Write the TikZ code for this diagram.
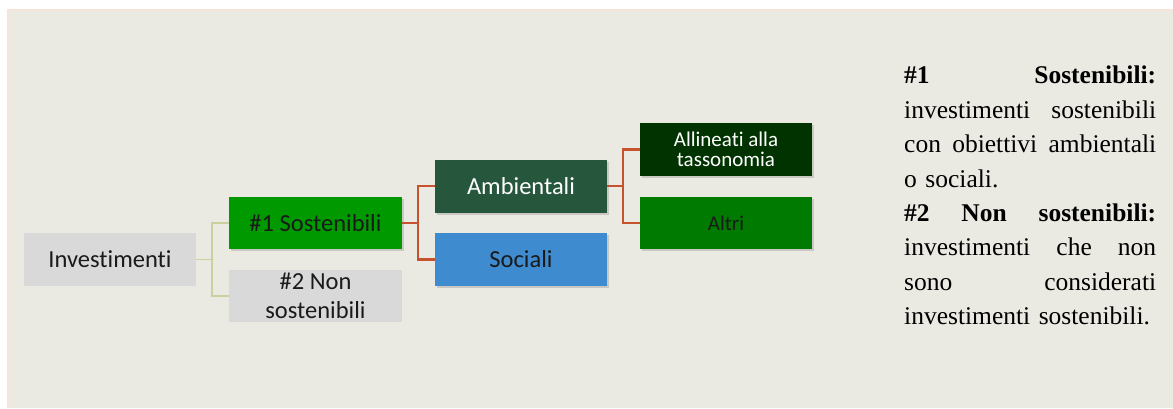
\documentclass[tikz,border=0pt]{standalone}
\usepackage{fontspec}
\setmainfont{Liberation Serif}
\newfontfamily\boxfont[Ligatures=NoCommon]{Carlito}
\usetikzlibrary{shadows}
\definecolor{bgbeige}{HTML}{EBEAE2}
\definecolor{bgedge}{HTML}{F6E3DA}
\definecolor{greyfill}{HTML}{D9D9D9}
\definecolor{sgreen}{HTML}{009A00}
\definecolor{ambgreen}{HTML}{26573C}
\definecolor{socblue}{HTML}{3F8BD0}
\definecolor{allgreen}{HTML}{003300}
\definecolor{altgreen}{HTML}{007A00}
\definecolor{olive}{HTML}{CDD09E}
\definecolor{redline}{HTML}{C5532E}
\definecolor{txtdark}{HTML}{1A1A1A}
\newcommand\jline[1]{\leavevmode\hbox to 252pt{#1}}
\tikzset{
  boxnode/.style={rectangle, minimum width=172pt, inner sep=2pt, align=center,
    font=\boxfont\fontsize{24.5}{29}\selectfont, text=txtdark},
  shadowed/.style={drop shadow={shadow xshift=1.5pt, shadow yshift=-2pt, opacity=0.25, fill=black!60}},
  smallbox/.style={boxnode, font=\boxfont\fontsize{21}{19.5}\selectfont},
  oliveline/.style={draw=olive, line width=1.2pt},
  redconn/.style={draw=redline, line width=2.4pt}
}
\begin{document}
\begin{tikzpicture}[x=1pt,y=-1pt]
\useasboundingbox (0,0) rectangle (1173,408);
\fill[white] (0,0) rectangle (1173,408);
\fill[bgedge] (7,9) rectangle (1173,408);
\fill[bgbeige] (9,11) rectangle (1173,408);

% nodes
\node[boxnode, fill=greyfill, minimum height=53pt] (inv) at (110,259.5) {Investimenti};
\node[boxnode, fill=sgreen, minimum width=173pt, minimum height=52pt, shadowed] (s1) at (315.5,223) {\#1 Sostenibili};
\node[boxnode, fill=greyfill, minimum width=173pt, minimum height=52pt] (s2) at (315.5,296) {\#2 Non\\sostenibili};
\node[boxnode, fill=ambgreen, minimum height=53pt, text=white, shadowed] (amb) at (521,186) {Ambientali};
\node[boxnode, fill=socblue, minimum height=53pt, shadowed] (soc) at (521,259.5) {Sociali};
\node[smallbox, fill=allgreen, minimum height=53pt, text=white, shadowed] (all) at (726,149.5) {Allineati alla\\tassonomia};
\node[smallbox, fill=altgreen, minimum height=52pt, shadowed] (alt) at (726,223) {Altri};

% connectors
\coordinate (e1) at (212,259.5);
\draw[oliveline] (inv.east) -- (e1) |- (s1.west);
\draw[oliveline] (e1) |- (s2.west);
\coordinate (e2) at (418,223);
\draw[redconn] (s1.east) -- (e2) |- (amb.west);
\draw[redconn] (e2) |- (soc.west);
\coordinate (e3) at (623,186);
\draw[redconn] (amb.east) -- (e3) |- (all.west);
\draw[redconn] (e3) |- (alt.west);

% legend text
\node[anchor=north west, inner sep=0pt, text width=252pt, align=left,
  font=\fontsize{25.5}{34.4}\selectfont, text=black] (legend) at (904,66) {%
\jline{\textbf{\#1}\hfill\textbf{Sostenibili:}}\\
\jline{investimenti\hfill sostenibili}\\
\jline{con\hfill obiettivi\hfill ambientali}\\
o sociali.\\
\jline{\textbf{\#2}\hfill\textbf{Non}\hfill\textbf{sostenibili:}}\\
\jline{investimenti\hfill che\hfill non}\\
\jline{sono\hfill considerati}\\
investimenti sostenibili.};
\end{tikzpicture}
\end{document}
